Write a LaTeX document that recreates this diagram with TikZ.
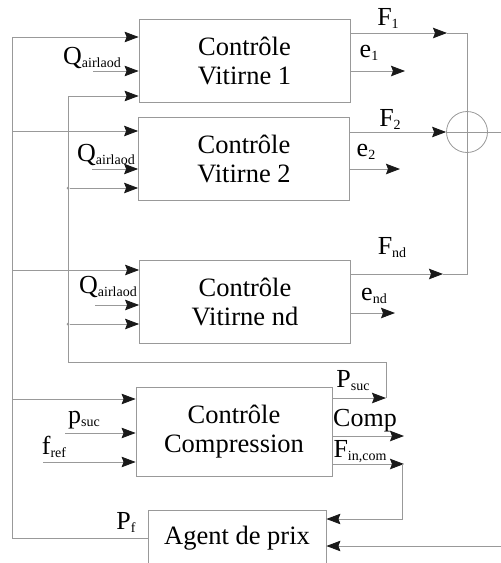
\documentclass[tikz,border=0pt]{standalone}
\usepackage{fontspec}
\setmainfont{Liberation Serif}
\usetikzlibrary{arrows.meta, positioning}
\newcommand{\lowidx}[1]{\raisebox{-3pt}{\fontsize{14}{14}\selectfont #1}}

\begin{document}
\begin{tikzpicture}[x=1pt, y=-1pt, >={Stealth[length=14pt,width=10.5pt,inset=2pt,color=black!90]},
    font=\rmfamily\fontsize{26.5}{29}\selectfont]
    % Styles
    \tikzstyle{block} = [draw=gray!80, line width=0.8pt, rectangle, minimum width=211pt, minimum height=83pt, align=center, inner sep=0pt, font=\rmfamily\fontsize{26.5}{29}\selectfont]
    \tikzstyle{wire} = [draw=gray!80, line width=0.8pt]
    \tikzstyle{sig} = [inner sep=0pt, font=\rmfamily\fontsize{26}{26}\selectfont]
    \tikzstyle{dot} = [circle, fill=gray!80, inner sep=0pt, minimum size=3pt]

    \useasboundingbox (0,0) rectangle (501,563);

    % Blocs
    \node [block] (vit1) at (244.5,60.5) {Contrôle\\Vitirne 1};
    \node [block] (vit2) at (244,158.5) {Contrôle\\Vitirne 2};
    \node [block] (vitnd) at (245,302) {Contrôle\\Vitirne nd};
    \node [block, minimum width=196pt, minimum height=89pt] (comp) at (234,431.5) {Contrôle\\Compression};
    \node [block, minimum width=178pt, minimum height=56pt] (agent) at (237,538) {Agent de prix};
    \node [circle, draw=gray!80, line width=0.8pt, minimum size=41pt, inner sep=0pt] (sum) at (467,132) {};
    \draw [wire] (sum.north) -- (sum.south) (sum.west) -- (sum.east);

    % Points libres
    \coordinate (b1) at (12,37);
    \coordinate (b2) at (12,131);
    \coordinate (b3) at (12,270);
    \coordinate (b4) at (12,399);
    \coordinate (q1) at (93,71);
    \coordinate (q2) at (92,169);
    \coordinate (q3) at (95,305);
    \coordinate (psin) at (65,433);
    \coordinate (frin) at (43,462);
    \coordinate (f1end) at (447,33);
    \coordinate (fndend) at (443,274);
    \coordinate (e1end) at (405,71);
    \coordinate (e2end) at (400,169);
    \coordinate (endend) at (395,313);
    \coordinate (psend) at (386,398);
    \coordinate (cpend) at (404,436);
    \coordinate (fcend) at (404,464);
    \coordinate (fcdown) at (402,464);
    \coordinate (prin) at (501,546);
    \coordinate (sout) at (501,132);
    \node [dot] (j2) at (68,188) {};
    \node [dot] (j3) at (68,324) {};

    % Bus de gauche
    \draw [wire, ->] (agent.west) -| (b1) -- (vit1.west |- b1);
    \draw [wire, ->] (b2) -- (vit2.west |- b2);
    \draw [wire, ->] (b3) -- (vitnd.west |- b3);
    \draw [wire, ->] (b4) -- (comp.west |- b4);

    % Retour P_suc
    \draw [wire, ->] (comp.east |- psend) -- (psend);
    \draw [wire, ->] (psend) |- (68,362) |- (vit1.west |- 0,96);
    \draw [wire, ->] (j2) -- (vit2.west |- j2);
    \draw [wire, ->] (j3) -- (vitnd.west |- j3);

    % Entrees
    \draw [wire, ->] (q1) -- (vit1.west |- q1);
    \draw [wire, ->] (q2) -- (vit2.west |- q2);
    \draw [wire, ->] (q3) -- (vitnd.west |- q3);
    \draw [wire, ->] (psin) -- (comp.west |- psin);
    \draw [wire, ->] (frin) -- (comp.west |- frin);

    % Sorties
    \draw [wire, ->] (vit1.east |- f1end) -- (f1end);
    \draw [wire] (f1end) -| (sum.north);
    \draw [wire, ->] (vit2.east |- sum.west) -- (sum.west);
    \draw [wire, ->] (vitnd.east |- fndend) -- (fndend);
    \draw [wire] (fndend) -| (sum.south);
    \draw [wire] (sum.east) -- (sout);
    \draw [wire, ->] (vit1.east |- e1end) -- (e1end);
    \draw [wire, ->] (vit2.east |- e2end) -- (e2end);
    \draw [wire, ->] (vitnd.east |- endend) -- (endend);
    \draw [wire, ->] (comp.east |- cpend) -- (cpend);
    \draw [wire, ->] (comp.east |- fcend) -- (fcend);
    \draw [wire, ->] (fcdown) |- (agent.east |- 0,519);
    \draw [wire, ->] (prin) -- (agent.east |- prin);

    % Etiquettes
    \node [sig] (lq1) at (92,58) {Q\lowidx{airlaod}};
    \node [sig] (lq2) at (106,155) {Q\lowidx{airlaod}};
    \node [sig] (lq3) at (108,287) {Q\lowidx{airlaod}};
    \node [sig] (lf1) at (388,18) {F\lowidx{1}};
    \node [sig] (le1) at (369,53) {e\lowidx{1}};
    \node [sig] (lf2) at (390,119) {F\lowidx{2}};
    \node [sig] (le2) at (366,152) {e\lowidx{2}};
    \node [sig] (lfnd) at (392,248) {F\lowidx{nd}};
    \node [sig] (lend) at (374,296) {e\lowidx{nd}};
    \node [sig] (lpsuc) at (353,381) {P\lowidx{suc}};
    \node [sig] (lcomp) at (365,421) {Comp};
    \node [sig] (lfin) at (360,452) {F\lowidx{in,com}};
    \node [sig] (lps) at (84,420) {p\lowidx{suc}};
    \node [sig] (lfr) at (54,447) {f\lowidx{ref}};
    \node [sig] (lpf) at (126,522) {P\lowidx{f}};
\end{tikzpicture}
\end{document}
